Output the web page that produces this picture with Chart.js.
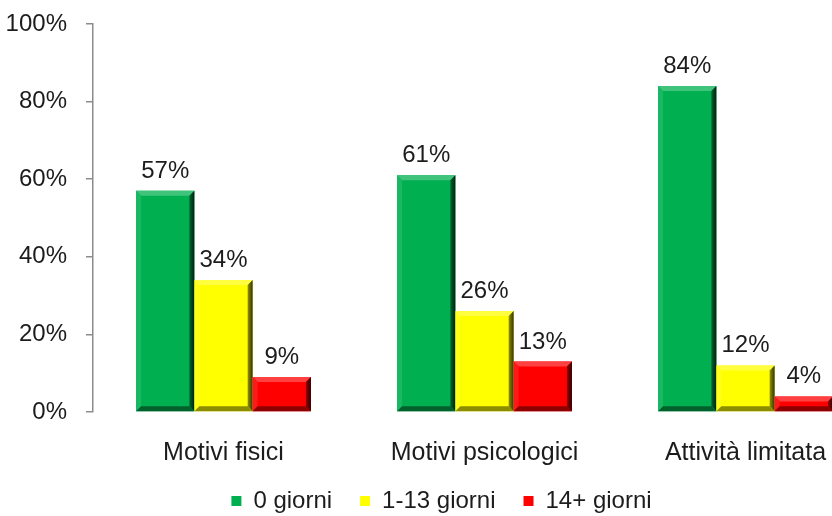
<!DOCTYPE html>
<html>
<head>
<meta charset="utf-8">
<script src="https://cdn.jsdelivr.net/npm/chart.js@4/dist/chart.umd.min.js"></script>
<style>
html,body{margin:0;padding:0;background:#fff;overflow:hidden;width:832px;height:516px;}
#wrap{position:absolute;left:0;top:0;width:876px;height:523px;}
</style>
</head>
<body>
<div id="wrap"><canvas id="c" width="876" height="523"></canvas></div>
<script>
const categories = ["Motivi fisici", "Motivi psicologici", "Attività limitata"];
const seriesNames = ["0 giorni", "1-13 giorni", "14+ giorni"];
const zeroDays = [57, 61, 84];
const oneTo13Days = [34, 26, 12];
const over14Days = [9, 13, 4];
const yTicks = [0, 20, 40, 60, 80, 100];
const colors = ["#00B050", "#FFFF00", "#FF0000"];

const FONT = "'Liberation Sans', Arial, sans-serif";
const TXT = "#1c1c1c";

function shade(hex, f) {
  const n = parseInt(hex.slice(1), 16);
  let r = (n >> 16) & 255, g = (n >> 8) & 255, b = n & 255;
  if (f < 0) { r = r * (1 + f); g = g * (1 + f); b = b * (1 + f); }
  else { r = r + (255 - r) * f; g = g + (255 - g) * f; b = b + (255 - b) * f; }
  return `rgb(${Math.round(r)},${Math.round(g)},${Math.round(b)})`;
}

const bevelPlugin = {
  id: 'bevel',
  afterDatasetsDraw(chart) {
    const ctx = chart.ctx;
    chart.data.datasets.forEach((ds, di) => {
      const meta = chart.getDatasetMeta(di);
      const base = ds.backgroundColor;
      meta.data.forEach((el, i) => {
        const p = el.getProps(['x', 'y', 'base', 'width'], true);
        const l = p.x - p.width / 2, r = p.x + p.width / 2, t = p.y, b = p.base;
        const d = Math.min(5, (b - t) / 2);
        ctx.save();
        ctx.fillStyle = shade(base, 0.25);
        ctx.beginPath(); ctx.moveTo(l, t); ctx.lineTo(r, t); ctx.lineTo(r - d, t + d); ctx.lineTo(l + d, t + d); ctx.closePath(); ctx.fill();
        ctx.fillStyle = shade(base, 0.1);
        ctx.beginPath(); ctx.moveTo(l, t); ctx.lineTo(l + d, t + d); ctx.lineTo(l + d, b - d); ctx.lineTo(l, b); ctx.closePath(); ctx.fill();
        const gr = ctx.createLinearGradient(r - d - 1, 0, r, 0);
        gr.addColorStop(0, shade(base, -0.35));
        gr.addColorStop(1, shade(base, -0.8));
        ctx.fillStyle = gr;
        ctx.beginPath(); ctx.moveTo(r, t); ctx.lineTo(r, b); ctx.lineTo(r - d, b - d); ctx.lineTo(r - d, t + d); ctx.closePath(); ctx.fill();
        ctx.fillStyle = shade(base, -0.45);
        ctx.beginPath(); ctx.moveTo(l, b); ctx.lineTo(r, b); ctx.lineTo(r - d, b - d); ctx.lineTo(l + d, b - d); ctx.closePath(); ctx.fill();
        ctx.restore();
        ctx.save();
        ctx.font = "24px " + FONT;
        ctx.fillStyle = TXT;
        ctx.textAlign = 'center';
        ctx.textBaseline = 'alphabetic';
        ctx.fillText(ds.data[i] + '%', p.x, t - 13);
        ctx.restore();
      });
    });
  }
};

new Chart(document.getElementById('c'), {
  type: 'bar',
  data: {
    labels: categories,
    datasets: [
      { label: seriesNames[0], data: zeroDays, backgroundColor: colors[0] },
      { label: seriesNames[1], data: oneTo13Days, backgroundColor: colors[1] },
      { label: seriesNames[2], data: over14Days, backgroundColor: colors[2] }
    ]
  },
  options: {
    responsive: false,
    animation: false,
    events: [],
    layout: { padding: { left: 7, right: 0, top: 0, bottom: 0 } },
    datasets: { bar: { barPercentage: 1, categoryPercentage: 0.67, borderWidth: 0 } },
    scales: {
      x: {
        afterFit(axis) { axis.height = axis.height - 25; axis._computeLabelArea = () => undefined; },
        grid: { display: false },
        border: { display: false },
        ticks: { color: TXT, font: { family: FONT, size: 25 }, padding: 18, maxRotation: 0 }
      },
      y: {
        min: 0, max: 100,
        afterBuildTicks(axis) { axis.ticks = yTicks.map(v => ({ value: v })); },
        afterFit(axis) { axis.width = 86; axis.paddingTop = 24; axis.paddingBottom = 14; },
        grid: { drawOnChartArea: false, drawTicks: true, tickLength: 7, color: '#8c8c8c', lineWidth: 1.5 },
        border: { color: '#8c8c8c', width: 1.5 },
        ticks: { color: TXT, font: { family: FONT, size: 24 }, padding: 19, callback: v => v + '%' }
      }
    },
    plugins: {
      tooltip: { enabled: false },
      legend: {
        position: 'bottom',
        labels: { color: TXT, font: { family: FONT, size: 24 }, boxWidth: 10, boxHeight: 10, padding: 28 }
      }
    }
  },
  plugins: [bevelPlugin]
});
</script>
</body>
</html>
